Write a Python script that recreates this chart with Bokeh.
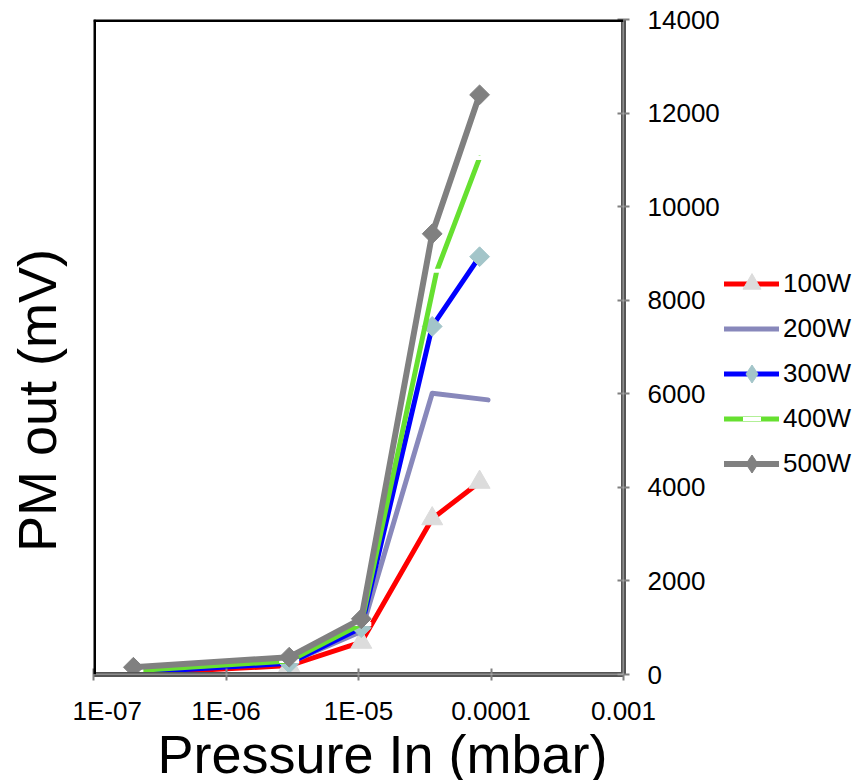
import math
from bokeh.plotting import figure
from bokeh.layouts import row, column
from bokeh.models import (Span, Label, Legend, LegendItem, FixedTicker,
                          CustomJSTickFormatter, Range1d, ColumnDataSource)
from bokeh.embed import file_html
from bokeh.resources import INLINE

# ---- data ----
series_names = ["100W", "200W", "300W", "400W", "500W"]
x_100 = [2e-7, 3e-6, 1.05e-5, 3.6e-5, 8.2e-5]
y_100 = [20, 190, 690, 3330, 4110]
x_200 = [2e-7, 3e-6, 1.05e-5, 3.6e-5, 9.5e-5]
y_200 = [60, 250, 920, 6010, 5870]
x_300 = [2e-7, 3e-6, 1.05e-5, 3.6e-5, 8.2e-5]
y_300 = [40, 240, 1000, 7440, 8930]
x_400 = [2e-7, 3e-6, 1.05e-5, 3.9e-5, 8.2e-5]
y_400 = [80, 290, 1080, 8630, 11040]
x_500 = [2e-7, 3e-6, 1.05e-5, 3.6e-5, 8.2e-5]
y_500 = [155, 370, 1190, 9420, 12390]
series_x = [x_100, x_200, x_300, x_400, x_500]
series_y = [y_100, y_200, y_300, y_400, y_500]

x_ticks = [1e-7, 1e-6, 1e-5, 1e-4, 1e-3]
x_tick_labels = ["1E-07", "1E-06", "1E-05", "0.0001", "0.001"]
y_ticks = [0, 2000, 4000, 6000, 8000, 10000, 12000, 14000]

FONT = "Liberation Sans"

# ---- layout sizes (pixels) ----
LEFT_W = 72
TOP_H = 730
LEG_W = 130
BOT_H = 50
MAIN_BL, MAIN_BT, MAIN_BR, MAIN_BB = 21, 19, 97, 56
FRAME_W, FRAME_H = 530, 655
FRAME_TOP, FRAME_BOT = MAIN_BT, MAIN_BT + FRAME_H   # shared by the whole row

styles = {
    "100W": dict(color="#FF0000", width=5, marker="triangle", msize=21, mfill="#DCDCDC"),
    "200W": dict(color="#8888BB", width=5, marker=None),
    "300W": dict(color="#0000FF", width=5, marker="diamond", msize=14, mfill="#A3C5C9"),
    "400W": dict(color="#66E030", width=5, marker="dash", msize=20, mfill="white"),
    "500W": dict(color="#808080", width=6, marker="diamond", msize=14, mfill="#808080"),
}


def add_series(fig, name, xs, ys, legend_style=False):
    st = styles[name]
    src = ColumnDataSource(dict(x=xs, y=ys))
    rs = [fig.line("x", "y", source=src, line_color=st["color"], line_width=st["width"],
                   line_cap="round", line_join="round")]
    m = st["marker"]
    if m == "triangle":
        rs.append(fig.scatter("x", "y", source=src, marker="triangle", size=st["msize"],
                              fill_color=st["mfill"], line_color=st["mfill"]))
    elif m == "diamond":
        if legend_style:
            rs.append(fig.scatter("x", "y", source=src, marker="diamond", size=st["msize"],
                                  fill_color=st["mfill"], line_color=st["mfill"]))
        else:
            rs.append(fig.scatter("x", "y", source=src, marker="square", angle=math.pi / 4,
                                  size=st["msize"], fill_color=st["mfill"],
                                  line_color=st["mfill"]))
    elif m == "dash":
        rs.append(fig.scatter("x", "y", source=src, marker="dash", size=st["msize"],
                              line_color=st["mfill"], line_width=4))
    return rs


def blank(width, height, **kw):
    f = figure(width=width, height=height, min_border=0, title=None,
               x_axis_location=None, y_axis_location=None,
               output_backend="svg", toolbar_location=None, **kw)
    f.xgrid.visible = False
    f.ygrid.visible = False
    f.outline_line_color = None
    f.background_fill_color = "white"
    f.border_fill_color = "white"
    return f


# ---- main chart ----
p = figure(x_axis_type="log", y_axis_location="right", title=None,
           x_range=Range1d(1e-7, 1e-3), y_range=Range1d(0, 14000),
           frame_width=FRAME_W, frame_height=FRAME_H,
           min_border_left=MAIN_BL, min_border_top=MAIN_BT,
           min_border_right=MAIN_BR, min_border_bottom=MAIN_BB,
           output_backend="svg", toolbar_location=None)
p.xgrid.visible = False
p.ygrid.visible = False
p.outline_line_color = None
p.background_fill_color = "white"
p.border_fill_color = "white"

for ax in (p.xaxis[0], p.yaxis[0]):
    ax.axis_line_color = "#555555"
    ax.axis_line_width = 5
    ax.major_tick_line_color = "#808080"
    ax.major_tick_line_width = 2
    ax.major_tick_in = 6
    ax.major_tick_out = 6
    ax.minor_tick_line_color = None
    ax.major_label_text_font = FONT
    ax.major_label_text_font_size = "26px"
    ax.major_label_text_color = "black"

p.xaxis.ticker = FixedTicker(ticks=x_ticks, minor_ticks=[])
p.xaxis.formatter = CustomJSTickFormatter(
    args=dict(tvals=x_ticks, tlabels=x_tick_labels),
    code="""
    let best = 1e9, idx = 0;
    for (let k = 0; k < tvals.length; k++) {
        const d = Math.abs(Math.log10(tick) - Math.log10(tvals[k]));
        if (d < best) { best = d; idx = k; }
    }
    return tlabels[idx];
    """)
p.xaxis.major_label_standoff = 15
p.yaxis.ticker = FixedTicker(ticks=y_ticks, minor_ticks=[])
p.yaxis.major_label_standoff = 18

p.add_layout(Span(location=1e-3, dimension="height", line_color="#c8c8c8", line_width=1.5))
p.add_layout(Span(location=0, dimension="width", line_color="#c8c8c8", line_width=1.5))
p.add_layout(Span(location=1e-7, dimension="height", line_color="black", line_width=5))
p.add_layout(Span(location=14000, dimension="width", line_color="black", line_width=5))

for n, xs, ys in zip(series_names, series_x, series_y):
    add_series(p, n, xs, ys)

# ---- legend strip: same series, drawn out of view; legend anchored by bottom-left ----
lg = blank(LEG_W, TOP_H, x_range=Range1d(0, 1), y_range=Range1d(-2, -1))
items = [LegendItem(label=n, renderers=add_series(lg, n, xs, ys, legend_style=True))
         for n, xs, ys in zip(series_names, series_x, series_y)]
leg_item_h = 45
leg_top = 283 - leg_item_h / 2
leg_bottom = leg_top + 5 * leg_item_h
lg.add_layout(Legend(items=items, location=(2, int(round(FRAME_BOT - leg_bottom))),
                     padding=0, margin=0, spacing=0,
                     glyph_width=55, glyph_height=leg_item_h, label_height=30,
                     label_standoff=4, label_text_font=FONT, label_text_font_size="26px",
                     label_text_color="black",
                     border_line_color=None, background_fill_alpha=0))

# ---- y title strip (its frame spans the same rows as the chart frame) ----
lf = blank(LEFT_W, TOP_H, x_range=Range1d(0, LEFT_W), y_range=Range1d(FRAME_BOT, FRAME_TOP))
lf.add_layout(Label(x=36, y=400, text="PM out (mV)", angle=math.pi / 2,
                    text_align="center", text_baseline="middle",
                    text_font=FONT, text_font_size="54px", text_color="black"))

# ---- x title strip ----
total_w = LEFT_W + MAIN_BL + FRAME_W + MAIN_BR + LEG_W
bf = blank(total_w, BOT_H, x_range=Range1d(0, total_w), y_range=Range1d(TOP_H + BOT_H, TOP_H))
bf.add_layout(Label(x=382, y=753, text="Pressure In (mbar)",
                    text_align="center", text_baseline="middle",
                    text_font=FONT, text_font_size="54px", text_color="black"))

layout = column(row(lf, p, lg), bf)
open("out.html", "w").write(file_html(layout, INLINE))
